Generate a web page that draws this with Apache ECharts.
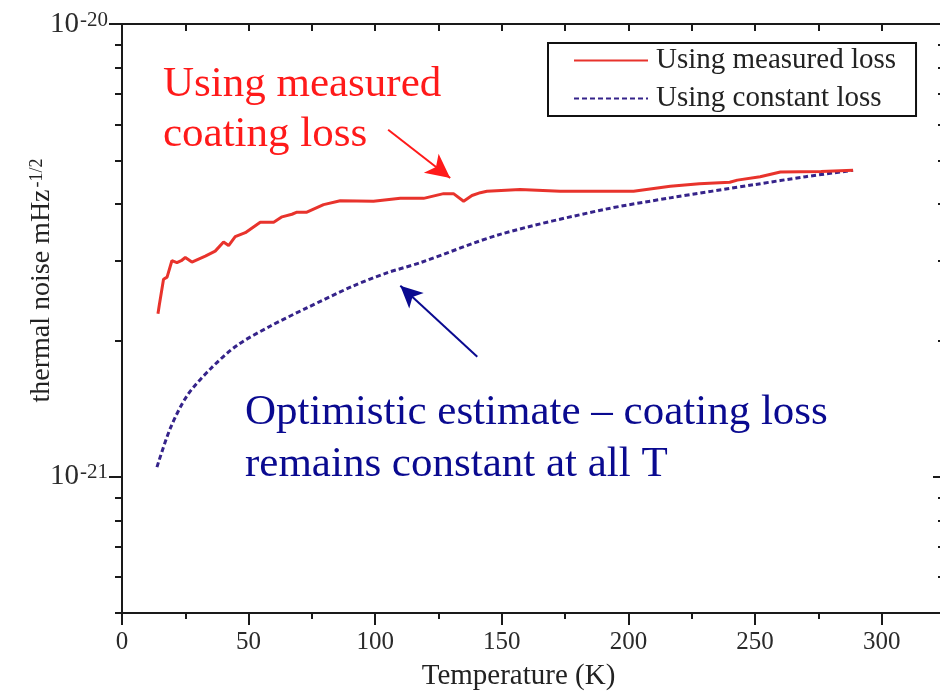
<!DOCTYPE html>
<html>
<head>
<meta charset="utf-8">
<script src="https://cdn.jsdelivr.net/npm/echarts@6/dist/echarts.min.js"></script>
<style>
  html, body { margin: 0; padding: 0; background: #ffffff; }
  #chart { width: 940px; height: 691px; }
</style>
</head>
<body>
<div id="chart"></div>
<script>
// Thermal noise vs temperature, measured coating loss
const measuredT = [14.2, 14.7, 16.4, 17.8, 19.7, 21.7, 23.4, 25.0, 27.6, 32.9, 36.8, 40.1, 42.1, 44.7, 48.7,
  54.6, 59.9, 63.2, 67.1, 69.1, 73.0, 79.6, 86.2, 99.3, 109.9, 119.1, 127.0, 130.9, 134.9, 138.2, 141.5,
  144.1, 157.2, 173.0, 202.0, 216.5, 228.0, 240.0, 243.0, 252.0, 260.0, 276.0, 288.7];
const measuredNoise = [2.29e-21, 2.39e-21, 2.73e-21, 2.76e-21, 3.00e-21, 2.97e-21, 3.00e-21, 3.05e-21, 2.98e-21,
  3.07e-21, 3.15e-21, 3.30e-21, 3.24e-21, 3.39e-21, 3.46e-21, 3.65e-21, 3.65e-21, 3.75e-21, 3.80e-21,
  3.84e-21, 3.84e-21, 3.99e-21, 4.07e-21, 4.06e-21, 4.12e-21, 4.12e-21, 4.22e-21, 4.22e-21, 4.06e-21,
  4.18e-21, 4.24e-21, 4.27e-21, 4.31e-21, 4.27e-21, 4.27e-21, 4.38e-21, 4.44e-21, 4.47e-21, 4.52e-21,
  4.60e-21, 4.71e-21, 4.72e-21, 4.75e-21];

// Thermal noise vs temperature, constant coating loss
const constantT = [13.8, 19.1, 25.7, 34.9, 45.4, 58.5, 73.0, 91.4, 104.6, 117.8, 149.3, 190.1, 216.5, 250.0, 270.0, 288.7];
const constantNoise = [1.05e-21, 1.28e-21, 1.51e-21, 1.73e-21, 1.95e-21, 2.15e-21, 2.36e-21, 2.64e-21, 2.82e-21,
  2.97e-21, 3.43e-21, 3.89e-21, 4.13e-21, 4.42e-21, 4.60e-21, 4.75e-21];

// Axis ticks
const xMajorTicks = [0, 50, 100, 150, 200, 250, 300];
const xMinorTicks = [25, 75, 125, 175, 225, 275];
const xAllTicks = [0, 25, 50, 75, 100, 125, 150, 175, 200, 225, 250, 275, 300];
const yMajorTicks = [1e-21, 1e-20];
const yMinorTicks = [5e-22, 6e-22, 7e-22, 8e-22, 9e-22, 2e-21, 3e-21, 4e-21, 5e-21, 6e-21, 7e-21, 8e-21, 9e-21];

// Annotation arrows, in data coordinates [T, noise]
const measuredArrow = [[105.1, 5.84e-21], [129.6, 4.57e-21]];
const constantArrow = [[140.3, 1.84e-21], [109.9, 2.64e-21]];

const SERIF = '"Liberation Serif", "Times New Roman", serif';
const AXIS_COLOR = '#1a1a1a';

const zip = (xs, ys) => xs.map((x, i) => [x, ys[i]]);

const chart = echarts.init(document.getElementById('chart'), null, { renderer: 'canvas' });

const logAxisBase = {
  type: 'log', logBase: 10, min: 5e-22, max: 1e-20,
  splitLine: { show: false }, minorSplitLine: { show: false }, minorTick: { show: false }
};
const xAxisBase = {
  type: 'value', min: 0, max: 325,
  splitLine: { show: false }, minorSplitLine: { show: false }, minorTick: { show: false }
};

function expLabel(v) {
  const e = Math.round(Math.log10(v));
  return '{b|10}{sup|' + e + '}';
}

chart.setOption({
  animation: false,
  backgroundColor: '#ffffff',
  grid: { left: 122, right: -5, top: 24, bottom: 78, outerBoundsMode: 'none' },
  legend: {
    orient: 'vertical', left: 548, top: 43,
    backgroundColor: '#ffffff', borderColor: '#111111', borderWidth: 2, borderRadius: 0,
    padding: [3, 20, 3, 25], itemWidth: 74, itemHeight: 14, itemGap: 9,
    itemStyle: { opacity: 0 },
    textStyle: { fontFamily: SERIF, fontSize: 29, color: '#222222', lineHeight: 26, padding: [0, 0, 0, 3] },
    data: ['Using measured loss', 'Using constant loss']
  },
  xAxis: [
    Object.assign({}, xAxisBase, {
      position: 'bottom',
      name: 'Temperature (K)', nameLocation: 'middle', nameGap: 49, nameMoveOverlap: false,
      nameTextStyle: { fontFamily: SERIF, fontSize: 29, color: '#222222', padding: [0, 30, 0, 0] },
      axisLine: { show: true, onZero: false, lineStyle: { color: AXIS_COLOR, width: 2 } },
      axisTick: { show: true, inside: false, length: 12, customValues: xMajorTicks, lineStyle: { color: AXIS_COLOR, width: 2 } },
      axisLabel: { show: true, customValues: xMajorTicks, margin: 17, fontFamily: SERIF, fontSize: 25, color: '#2a2a2a' }
    }),
    Object.assign({}, xAxisBase, {
      position: 'bottom',
      axisLine: { show: false, onZero: false },
      axisTick: { show: true, inside: false, length: 6, customValues: xMinorTicks, lineStyle: { color: AXIS_COLOR, width: 2 } },
      axisLabel: { show: false }
    }),
    Object.assign({}, xAxisBase, {
      position: 'top',
      axisLine: { show: true, onZero: false, lineStyle: { color: AXIS_COLOR, width: 2 } },
      axisTick: { show: true, inside: true, length: 7, customValues: xAllTicks, lineStyle: { color: AXIS_COLOR, width: 2 } },
      axisLabel: { show: false }
    })
  ],
  yAxis: [
    Object.assign({}, logAxisBase, {
      position: 'left',
      name: 'thermal noise mHz{sup|-1/2}', nameLocation: 'middle', nameGap: 66, nameRotate: 90, nameMoveOverlap: false,
      nameTextStyle: {
        fontFamily: SERIF, fontSize: 28, color: '#222222', padding: [0, 0, 0, 76],
        rich: { sup: { fontFamily: SERIF, fontSize: 18, color: '#222222', verticalAlign: 'top', lineHeight: 18, padding: [0, 0, 10, 2] } }
      },
      axisLine: { show: true, onZero: false, lineStyle: { color: AXIS_COLOR, width: 2 } },
      axisTick: { show: true, inside: false, length: 13, customValues: yMajorTicks, lineStyle: { color: AXIS_COLOR, width: 2 } },
      axisLabel: {
        show: true, customValues: yMajorTicks, margin: 14, formatter: expLabel,
        rich: {
          b: { fontFamily: SERIF, fontSize: 29, color: '#2a2a2a', lineHeight: 29, verticalAlign: 'bottom' },
          sup: { fontFamily: SERIF, fontSize: 21, color: '#2a2a2a', lineHeight: 21, verticalAlign: 'top', padding: [0, 0, 6, 1] }
        }
      }
    }),
    Object.assign({}, logAxisBase, {
      position: 'left',
      axisLine: { show: false, onZero: false },
      axisTick: { show: true, inside: false, length: 7, customValues: yMinorTicks, lineStyle: { color: AXIS_COLOR, width: 2 } },
      axisLabel: { show: false }
    }),
    Object.assign({}, logAxisBase, {
      position: 'right',
      axisLine: { show: true, onZero: false, lineStyle: { color: AXIS_COLOR, width: 2 } },
      axisTick: { show: true, inside: true, length: 12, customValues: yMajorTicks, lineStyle: { color: AXIS_COLOR, width: 2 } },
      axisLabel: { show: false }
    }),
    Object.assign({}, logAxisBase, {
      position: 'right',
      axisLine: { show: false, onZero: false },
      axisTick: { show: true, inside: true, length: 7, customValues: yMinorTicks, lineStyle: { color: AXIS_COLOR, width: 2 } },
      axisLabel: { show: false }
    })
  ],
  series: [
    {
      name: 'Using measured loss', type: 'line', xAxisIndex: 0, yAxisIndex: 0,
      data: zip(measuredT, measuredNoise), symbol: 'none', smooth: false, z: 3,
      lineStyle: { color: '#e8332c', width: 3 }, itemStyle: { color: '#e8332c' },
      emphasis: { disabled: true },
      markLine: {
        silent: true, symbol: ['none', 'arrow'], symbolSize: [18, 24], animation: false,
        label: { show: false }, emphasis: { disabled: true },
        lineStyle: { color: '#ff1a1a', width: 2, type: 'solid' },
        data: [[{ coord: measuredArrow[0] }, { coord: measuredArrow[1] }]]
      }
    },
    {
      name: 'Using constant loss', type: 'line', xAxisIndex: 0, yAxisIndex: 0,
      data: zip(constantT, constantNoise), symbol: 'none', smooth: 0.3, z: 2,
      lineStyle: { color: '#35238a', width: 3, type: [5, 3] }, itemStyle: { color: '#35238a' },
      emphasis: { disabled: true },
      markLine: {
        silent: true, symbol: ['none', 'arrow'], symbolSize: [16, 22], animation: false,
        label: { show: false }, emphasis: { disabled: true },
        lineStyle: { color: '#0a0a90', width: 2, type: 'solid' },
        data: [[{ coord: constantArrow[0] }, { coord: constantArrow[1] }]]
      }
    }
  ],
  graphic: [
    {
      type: 'text', left: 163, top: 60, z: 10,
      style: { text: 'Using measured\ncoating loss', fontFamily: SERIF, fontSize: 43, lineHeight: 50, fill: '#ff1a1a' }
    },
    {
      type: 'text', left: 245, top: 387, z: 10,
      style: { text: 'Optimistic estimate \u2013 coating loss\nremains constant at all T', fontFamily: SERIF, fontSize: 43, lineHeight: 52, fill: '#0a0a90' }
    }
  ]
});
</script>
</body>
</html>
